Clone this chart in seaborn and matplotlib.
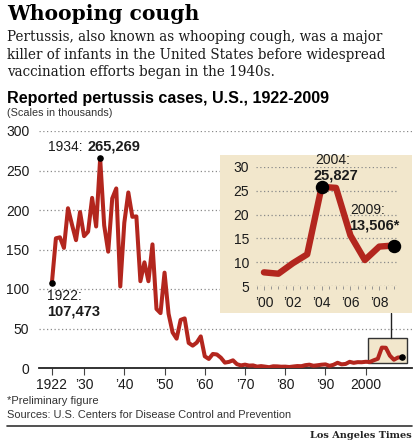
import matplotlib
matplotlib.use("Agg")
import matplotlib.pyplot as plt
import seaborn as sns
import pandas as pd
from matplotlib.patches import Rectangle
from matplotlib.lines import Line2D

# ---------------- data (thousands of reported cases) ----------------
years = list(range(1922, 2010))
cases = [107.473, 164.191, 165.418, 152.003, 202.210, 181.411, 161.799, 197.371,
         166.914, 172.559, 215.343, 179.135, 265.269, 180.518, 147.237, 214.652,
         227.319, 103.188, 183.866, 222.202, 191.383, 191.890, 109.873, 133.792,
         109.860, 156.517, 74.715, 69.479, 120.718, 68.687, 45.030, 37.129,
         60.886, 62.786, 31.732, 28.295, 32.148, 40.005, 14.809, 11.468,
         17.749, 17.135, 13.005, 6.799, 7.717, 9.718, 4.810, 3.285,
         4.249, 3.036, 3.287, 1.759, 2.402, 1.738, 1.010, 2.177,
         2.063, 1.623, 1.730, 1.248, 1.895, 2.463, 2.276, 3.589,
         4.195, 2.823, 3.450, 4.157, 4.570, 2.719, 4.083, 6.586,
         4.617, 5.137, 7.796, 6.564, 7.405, 7.288, 7.867, 7.580,
         9.771, 11.647, 25.827, 25.616, 15.632, 10.454, 13.278, 13.506]

main_xticks = [1922, 1930, 1940, 1950, 1960, 1970, 1980, 1990, 2000]
main_xlabels = ["1922", "\u201930", "\u201940", "\u201950", "\u201960",
                "\u201970", "\u201980", "\u201990", "2000"]
main_yticks = [0, 50, 100, 150, 200, 250, 300]

inset_start = 2000
inset_xticks = [2000, 2002, 2004, 2006, 2008]
inset_xlabels = ["\u201900", "\u201902", "\u201904", "\u201906", "\u201908"]
inset_yticks = [5, 10, 15, 20, 25, 30]

RED = "#B3261E"
BEIGE = "#F2E7CC"
INK = "#1b1b1b"

sns.set_theme(style="white")
plt.rcParams['font.family'] = ['Liberation Sans', 'DejaVu Sans']

W, H = 418, 442
fig = plt.figure(figsize=(W / 100, H / 100), dpi=100)
fig.patch.set_facecolor("white")


def fx(x):
    return x / W


def fy(y):
    return 1 - y / H


# ---------------- main chart ----------------
df = pd.DataFrame({"year": years, "cases": cases})
ax = fig.add_axes([fx(39), fy(368), fx(412) - fx(39), fy(131) - fy(368)])
ax.set_axisbelow(True)
sns.lineplot(data=df, x="year", y="cases", ax=ax, color=RED, lw=2.9,
             solid_joinstyle="round", zorder=3)
ax.set_xlim(1918.8, 2011.5)
ax.set_ylim(0, 300)
ax.set_xlabel("")
ax.set_ylabel("")
ax.set_xticks(main_xticks)
ax.set_xticklabels(main_xlabels)
ax.set_yticks(main_yticks)
ax.grid(axis="y", linestyle=(0, (1, 2)), color="#8a8a8a", lw=0.9)
ax.grid(axis="x", visible=False)
for s in ["left", "right", "top"]:
    ax.spines[s].set_visible(False)
ax.spines["bottom"].set_color("#222222")
ax.spines["bottom"].set_linewidth(1.3)
ax.tick_params(axis="y", length=0, pad=7, labelsize=10, labelcolor=INK)
ax.tick_params(axis="x", direction="out", length=5, width=0.8, color="#444444",
               pad=2, labelsize=10, labelcolor=INK, bottom=True)

pts = df[df["year"].isin([1922, 1934, 2009])]
ax.scatter(pts["year"], pts["cases"], s=14, color="black", zorder=5, clip_on=False)

# small highlight box around 2000s
ax.add_patch(Rectangle((2000.5, 6.3), 9.7, 31.7, facecolor=BEIGE,
                       edgecolor="#333333", lw=1.0, zorder=2))

fig.text(fx(48), fy(147), "1934:", fontsize=10, color=INK, ha="left", va="center")
fig.text(fx(88), fy(147), "265,269", fontsize=10.5, fontweight="bold", color=INK,
         ha="left", va="center")
fig.text(fx(47), fy(296), "1922:", fontsize=10, color=INK, ha="left", va="center")
fig.text(fx(47), fy(312), "107,473", fontsize=10.5, fontweight="bold", color=INK,
         ha="left", va="center")

# connector from small box to inset
fig.add_artist(Line2D([fx(391), fx(391)], [fy(338), fy(313)], color="#222222",
                      lw=1.0, transform=fig.transFigure, zorder=1))

# ---------------- inset ----------------
fig.add_artist(Rectangle((fx(220), fy(313)), fx(412) - fx(220), fy(155) - fy(313),
                         transform=fig.transFigure, facecolor=BEIGE,
                         edgecolor="none", zorder=1))
dfi = df[df["year"] >= inset_start]
axi = fig.add_axes([fx(256), fy(286), fx(398) - fx(256), fy(167) - fy(286)])
axi.set_zorder(2)
axi.patch.set_alpha(0)
axi.set_axisbelow(True)
sns.lineplot(data=dfi, x="year", y="cases", ax=axi, color=RED, lw=4.6,
             solid_joinstyle="round", zorder=3)
axi.set_xlim(1999.45, 2009.3)
axi.set_ylim(5, 30)
axi.set_xlabel("")
axi.set_ylabel("")
axi.set_xticks(inset_xticks)
axi.set_xticklabels(inset_xlabels)
axi.set_xticks([x / 2 for x in range(3999, 4019)], minor=True)
axi.set_yticks(inset_yticks)
axi.grid(axis="y", linestyle=(0, (1, 2)), color="#8a8a8a", lw=0.9)
axi.grid(axis="x", visible=False)
for s in axi.spines.values():
    s.set_visible(False)
axi.tick_params(axis="y", length=0, pad=5, labelsize=10, labelcolor=INK)
axi.tick_params(axis="x", which="major", length=3, width=0.6, color="#888888",
                direction="out", pad=4, labelsize=10, labelcolor=INK, bottom=True)
axi.tick_params(axis="x", which="minor", length=2.5, width=0.6, color="#888888",
                direction="out", bottom=True)
ipts = dfi[dfi["year"].isin([2004, 2009])]
axi.scatter(ipts["year"], ipts["cases"], s=75, color="black", zorder=5, clip_on=False)

fig.text(fx(333), fy(160), "2004:", fontsize=10, color=INK, ha="center", va="center")
fig.text(fx(336), fy(176), "25,827", fontsize=10.5, fontweight="bold", color=INK,
         ha="center", va="center")
fig.text(fx(368), fy(210), "2009:", fontsize=10, color=INK, ha="center", va="center")
fig.text(fx(374), fy(225), "13,506*", fontsize=10.5, fontweight="bold", color=INK,
         ha="center", va="center")

# ---------------- titles and notes ----------------
fig.text(fx(7), fy(14), "Whooping cough", fontsize=14.6, fontweight="bold",
         family=["DejaVu Serif"], color="black", ha="left", va="center")
body = ["Pertussis, also known as whooping cough, was a major",
        "killer of infants in the United States before widespread",
        "vaccination efforts began in the 1940s."]
for i, line in enumerate(body):
    fig.text(fx(7), fy(37 + 17.5 * i), line, fontsize=9.75, family=["DejaVu Serif"],
             color=INK, ha="left", va="center")
fig.text(fx(7), fy(98), "Reported pertussis cases, U.S., 1922-2009", fontsize=11.6,
         fontweight="bold", color="black", ha="left", va="center")
fig.text(fx(7), fy(113), "(Scales in thousands)", fontsize=7.8, color="#333333",
         ha="left", va="center")
fig.text(fx(7), fy(401), "*Preliminary figure", fontsize=8, color="#333333",
         ha="left", va="center")
fig.text(fx(7), fy(415), "Sources: U.S. Centers for Disease Control and Prevention",
         fontsize=7.9, color="#333333", ha="left", va="center")
fig.add_artist(Line2D([fx(7), fx(412)], [fy(426), fy(426)], color="#333333", lw=1.2,
                      transform=fig.transFigure))
fig.text(fx(412), fy(435), "Los Angeles Times", fontsize=7, fontweight="bold",
         family=["DejaVu Serif"], color="#222222", ha="right", va="center")

fig.savefig("out.png", dpi=100)
